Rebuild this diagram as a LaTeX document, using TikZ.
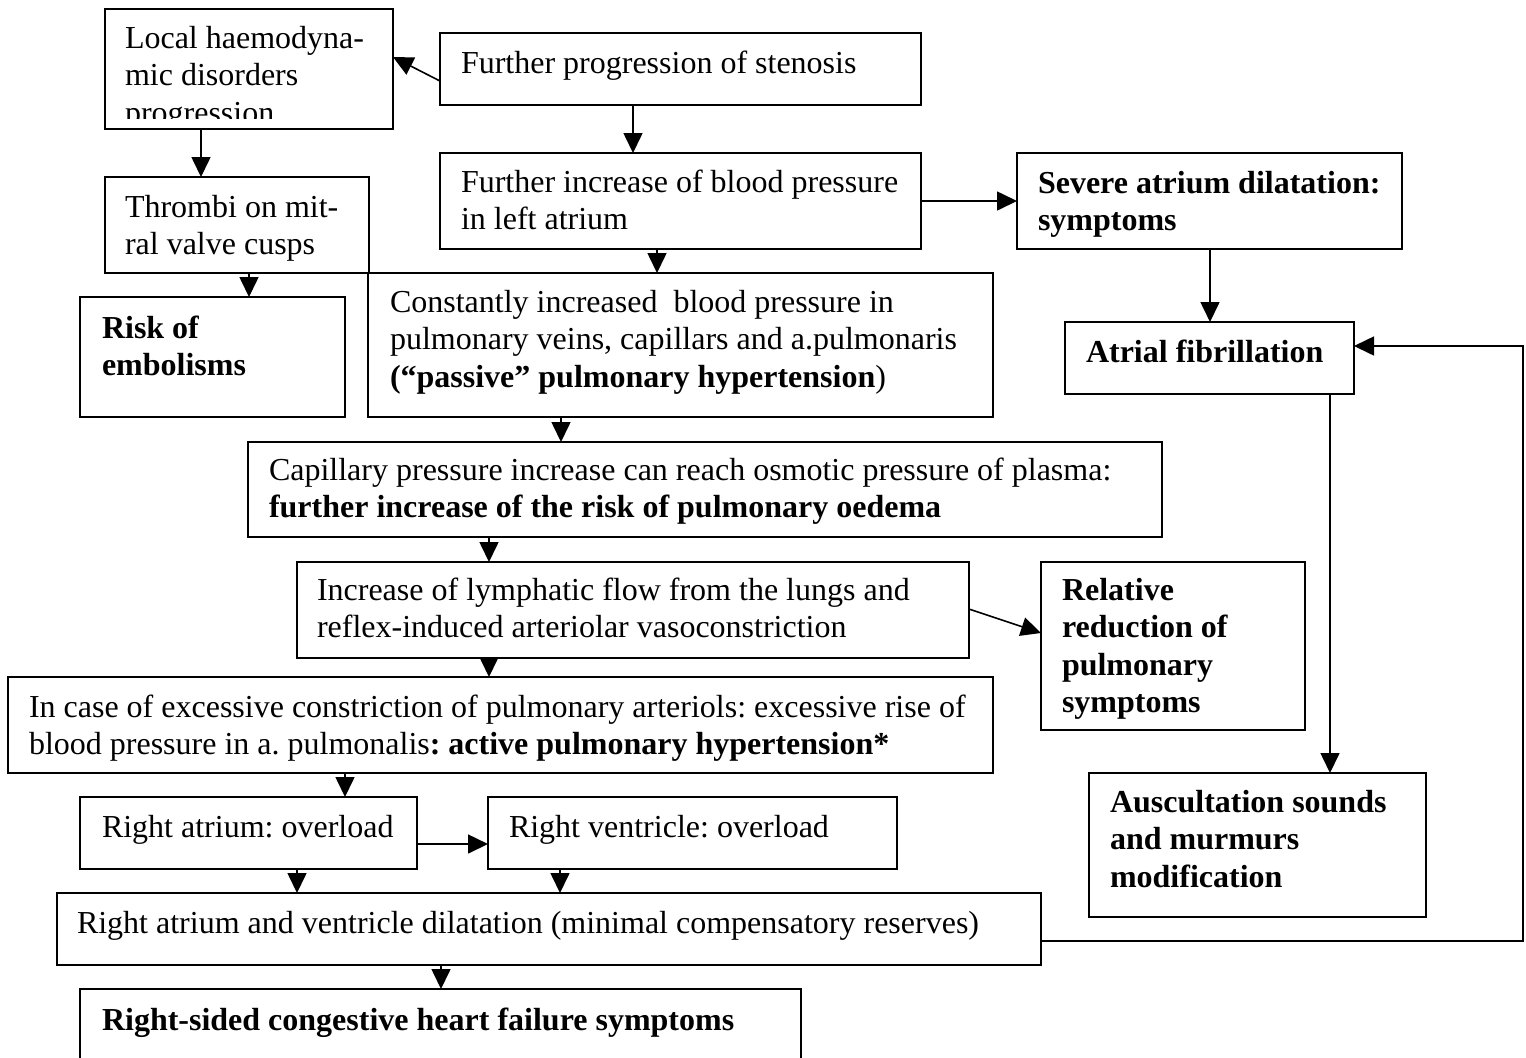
\documentclass[tikz,border=0pt]{standalone}
\usepackage{fontspec}
\setmainfont{Liberation Serif}
\usetikzlibrary{arrows.meta,calc}
\frenchspacing

\tikzset{
  box/.style={draw, line width=0.8pt, rectangle, inner sep=0pt, outer sep=0pt},
  lbl/.style={anchor=base west, inner sep=0pt, outer sep=0pt, font=\fontsize{16}{18.75}\selectfont},
  arr/.style={line width=0.8pt, -{Triangle[length=10pt,width=9.5pt]}},
}

% a box given by its corners (x1,y1) and (x2,y2)
\newcommand\flowbox[5]{%
  \node[box, minimum width={(#4-#2)*0.5pt}, minimum height={(#5-#3)*0.5pt}]
    (#1) at ({(#2+#4)/2},{(#3+#5)/2}) {};}
% left-aligned lines, baseline on the first line
\newcommand\lines[1]{\begin{tabular}[t]{@{}l@{}}#1\end{tabular}}

\begin{document}
\begin{tikzpicture}[x=0.5pt,y=-0.5pt]
\useasboundingbox (0,0) rectangle (1526,1057);

% ---- boxes ----
\flowbox{A}{105}{9}{393}{129}
\flowbox{B}{440}{33}{921}{105}
\flowbox{C}{440}{153}{921}{249}
\flowbox{D}{105}{177}{369}{273}
\flowbox{E}{1017}{153}{1402}{249}
\flowbox{F}{1065}{322}{1354}{394}
\flowbox{G}{80}{297}{345}{417}
\flowbox{H}{368}{273}{993}{417}
\flowbox{I}{248}{442}{1162}{537}
\flowbox{J}{297}{562}{969}{658}
\flowbox{K}{1041}{562}{1305}{730}
\flowbox{L}{8}{677}{993}{773}
\flowbox{M}{1089}{773}{1426}{917}
\flowbox{N}{80}{797}{417}{869}
\flowbox{O}{488}{797}{897}{869}
\flowbox{P}{57}{893}{1041}{965}
\flowbox{Q}{80}{989}{801}{1085}

% ---- texts ----
\begin{scope}
  \clip (105,9) rectangle (393,118);
  \node[lbl] (At) at (125,48) {\lines{Local haemodyna-\\mic disorders\\progression}};
\end{scope}
\node[lbl] (Bt) at (461,73) {\lines{Further progression of stenosis}};
\node[lbl] (Ct) at (461,192) {\lines{Further increase of blood pressure\\in left atrium}};
\node[lbl] (Dt) at (125,217) {\lines{Thrombi on mit-\\ral valve cusps}};
\node[lbl] (Et) at (1038,193) {\lines{\bfseries Severe atrium dilatation:\\\bfseries symptoms}};
\node[lbl] (Ft) at (1086,362) {\lines{\bfseries Atrial fibrillation}};
\node[lbl] (Gt) at (102,338) {\lines{\bfseries Risk of\\\bfseries embolisms}};
\node[lbl] (Ht) at (390,312) {\lines{Constantly increased\ \ blood pressure in\\pulmonary veins, capillars and a.pulmonaris\\\textbf{(“passive” pulmonary hypertension})}};
\node[lbl] (It) at (269,480) {\lines{Capillary pressure increase can reach osmotic pressure of plasma:\\\textbf{further increase of the risk of pulmonary oedema}}};
\node[lbl] (Jt) at (317,600) {\lines{Increase of lymphatic flow from the lungs and\\reflex-induced arteriolar vasoconstriction}};
\node[lbl] (Kt) at (1062,600) {\lines{\bfseries Relative\\\bfseries reduction of\\\bfseries pulmonary\\\bfseries symptoms}};
\node[lbl] (Lt) at (29,717) {\lines{In case of excessive constriction of pulmonary arteriols: excessive rise of\\blood pressure in a. pulmonalis\textbf{: active pulmonary hypertension*}}};
\node[lbl] (Mt) at (1110,812) {\lines{\bfseries Auscultation sounds\\\bfseries and murmurs\\\bfseries modification}};
\node[lbl] (Nt) at (102,837) {\lines{Right atrium: overload}};
\node[lbl] (Ot) at (509,837) {\lines{Right ventricle: overload}};
\node[lbl] (Pt) at (77,933) {\lines{Right atrium and ventricle dilatation (minimal compensatory reserves)}};
\node[lbl] (Qt) at (102,1030) {\lines{\bfseries Right-sided congestive heart failure symptoms}};

% ---- connectors ----
\draw[arr] ($(B.west)+(0,12)$) -- ($(A.east)+(0,-12)$);
\draw[arr] (B.south -| 633,0) -- (C.north -| 633,0);
\draw[arr] (A.south -| 201,0) -- (D.north -| 201,0);
\draw[arr] (C.east) -- (E.west);
\draw[arr] (D.south -| 249,0) -- (G.north -| 249,0);
\draw[arr] (C.south -| 657,0) -- (H.north -| 657,0);
\draw[arr] (E.south -| 1210,0) -- (F.north -| 1210,0);
\draw[arr] (H.south -| 561,0) -- (I.north -| 561,0);
\draw[arr] (I.south -| 489,0) -- (J.north -| 489,0);
\draw[arr] ($(J.east)+(0,-1)$) -- ($(K.west)+(0,-13)$);
\draw[arr] (J.south -| 489,0) -- (L.north -| 489,0);
\draw[arr] (L.south -| 345,0) -- (N.north -| 345,0);
\draw[arr] ($(N.east)+(0,11)$) -- ($(O.west)+(0,11)$);
\draw[arr] (N.south -| 297,0) -- (P.north -| 297,0);
\draw[arr] (O.south -| 560,0) -- (P.north -| 560,0);
\draw[arr] (P.south -| 441,0) -- (Q.north -| 441,0);
\draw[arr] (F.south -| 1330,0) -- (M.north -| 1330,0);

% return line from the dilatation box back to atrial fibrillation
\coordinate (ret) at (1523,0);
\coordinate (pout) at ($(P.east)+(0,12)$);
\draw[arr] (pout) -- (pout -| ret) |- ($(F.east)+(0,-12)$);
\end{tikzpicture}
\end{document}
